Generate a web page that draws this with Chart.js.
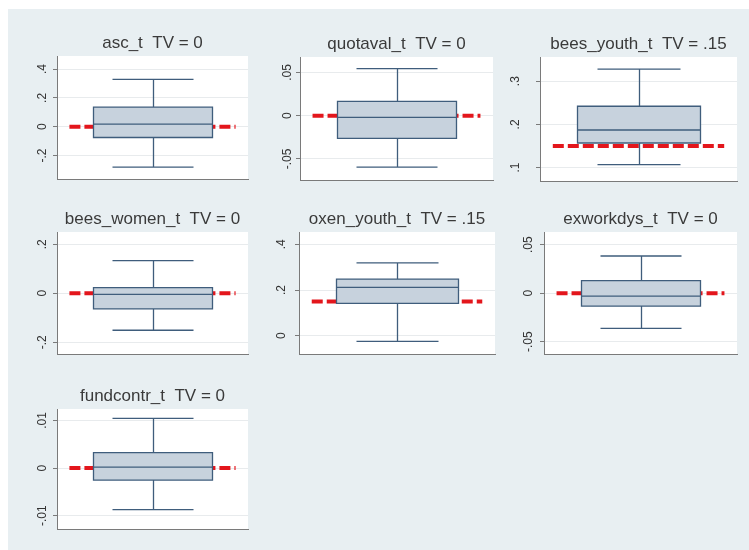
<!DOCTYPE html>
<html>
<head>
<meta charset="utf-8">
<script src="https://cdn.jsdelivr.net/npm/chart.js@4/dist/chart.umd.min.js"></script>
<style>
  html, body { margin: 0; padding: 0; background: #ffffff; }
  #wrap { position: relative; width: 749px; height: 550px; overflow: hidden; background: #ffffff; }
  #region { position: absolute; left: 8px; top: 9px; right: 0; bottom: 0; background: #e8eff2; }
  #wrap canvas { position: absolute; }
</style>
</head>
<body>
<div id="wrap"><div id="region"></div></div>
<script>
// Simulated t-statistics: one box per variable, red dashed line at the true value (TV)
const variables = ['asc_t', 'quotaval_t', 'bees_youth_t', 'bees_women_t', 'oxen_youth_t', 'exworkdys_t', 'fundcontr_t'];
const trueValues = [0, 0, 0.15, 0, 0.15, 0, 0];
const trueValueLabels = ['0', '0', '.15', '0', '.15', '0', '0'];

const lowerWhisker  = [-0.280, -0.0594, 0.107, -0.151, -0.025, -0.0362, -0.00872];
const lowerQuartile = [-0.075, -0.0263, 0.157, -0.064,  0.142, -0.0133, -0.00253];
const medians       = [ 0.018, -0.0020, 0.187, -0.005,  0.212, -0.0031,  0.00020];
const upperQuartile = [ 0.136,  0.0166, 0.242,  0.023,  0.248,  0.0130,  0.00323];
const upperWhisker  = [ 0.329,  0.0544, 0.328,  0.133,  0.319,  0.0383,  0.01044];

const axisMin = [-0.363, -0.0744, 0.069, -0.248, -0.080, -0.0626, -0.0128];
const axisMax = [ 0.491,  0.0679, 0.356,  0.250,  0.454,  0.0630,  0.0124];

const tickValues = [
  [-0.2, 0, 0.2, 0.4], [-0.05, 0, 0.05], [0.1, 0.2, 0.3],
  [-0.2, 0, 0.2], [0, 0.2, 0.4], [-0.05, 0, 0.05], [-0.01, 0, 0.01]
];
const tickLabels = [
  ['-.2', '0', '.2', '.4'], ['-.05', '0', '.05'], ['.1', '.2', '.3'],
  ['-.2', '0', '.2'], ['0', '.2', '.4'], ['-.05', '0', '.05'], ['-.01', '0', '.01']
];

// Plot-area rectangles on the page: [left, top, right, bottom]
const plotRects = [
  [57, 56, 248, 179], [300, 57, 493, 180], [540, 57, 737, 181],
  [57, 232, 248, 354], [299, 232, 495, 354], [544, 232, 737, 354],
  [57, 409, 248, 529]
];
const labelPadding = [3, -2, 15, 3, 8, 1, 0];

const AXIS_W = 45, TITLE_H = 40, EDGE = 4;
const TITLE_SIZE = 17, TITLE_LH = 1.2;
const BOX_L = 0.19, BOX_R = 0.81, CAP_L = 0.29, CAP_R = 0.71, MID = 0.5;
const TV_FROM = 0.065, TV_TO = 0.935;

const AXIS_COLOR = '#7a7a7a';
const BOX_FILL = '#c7d2dd';
const BOX_LINE = '#3f5d7c';

const boxWhisker = {
  id: 'boxWhisker',
  beforeDraw(chart) {
    const a = chart.chartArea, ctx = chart.ctx;
    ctx.save();
    ctx.fillStyle = '#ffffff';
    ctx.fillRect(a.left, a.top, a.right - a.left, a.bottom - a.top);
    ctx.restore();
  },
  afterDatasetsDraw(chart, args, opts) {
    const xs = chart.scales.x, ys = chart.scales.y, ctx = chart.ctx;
    const px = v => xs.getPixelForValue(v);
    const py = v => ys.getPixelForValue(v);
    const xl = Math.round(px(BOX_L)) + 0.5, xr = Math.round(px(BOX_R)) + 0.5;
    const xm = Math.round(px(MID)) + 0.5;
    const cl = Math.round(px(CAP_L)) + 0.5, cr = Math.round(px(CAP_R)) + 0.5;
    const yq1 = py(opts.q1), yq3 = py(opts.q3), ymed = py(opts.med);
    const ylo = py(opts.lo), yhi = py(opts.hi);
    ctx.save();
    ctx.strokeStyle = BOX_LINE;
    ctx.lineWidth = 1.3;
    ctx.fillStyle = BOX_FILL;
    ctx.fillRect(xl, yq3, xr - xl, yq1 - yq3);
    ctx.beginPath();
    // whiskers and caps
    ctx.moveTo(xm, yq3); ctx.lineTo(xm, yhi);
    ctx.moveTo(cl, yhi); ctx.lineTo(cr, yhi);
    ctx.moveTo(xm, yq1); ctx.lineTo(xm, ylo);
    ctx.moveTo(cl, ylo); ctx.lineTo(cr, ylo);
    // box outline and median
    ctx.rect(xl, yq3, xr - xl, yq1 - yq3);
    ctx.moveTo(xl, ymed); ctx.lineTo(xr, ymed);
    ctx.stroke();
    ctx.restore();
  }
};

const wrap = document.getElementById('wrap');

variables.forEach((name, i) => {
  const [L, T, R, B] = plotRects[i];
  const w = R - L + AXIS_W + EDGE;
  const h = B - T + TITLE_H + EDGE;
  const canvas = document.createElement('canvas');
  canvas.width = w; canvas.height = h;
  canvas.style.left = (L - AXIS_W) + 'px';
  canvas.style.top = (T - TITLE_H) + 'px';
  canvas.style.width = w + 'px';
  canvas.style.height = h + 'px';
  wrap.appendChild(canvas);

  const lineBox = TITLE_SIZE * TITLE_LH;
  new Chart(canvas, {
    type: 'line',
    data: {
      datasets: [{
        label: 'TV',
        data: [{ x: TV_FROM, y: trueValues[i] }, { x: TV_TO, y: trueValues[i] }],
        borderColor: '#e3161c',
        borderWidth: 4,
        borderDash: [11, 4],
        pointRadius: 0,
        fill: false
      }]
    },
    options: {
      responsive: false,
      animation: false,
      events: [],
      layout: { padding: { left: 0, top: 0, right: EDGE, bottom: EDGE } },
      plugins: {
        legend: { display: false },
        tooltip: { enabled: false },
        title: {
          display: true,
          fullSize: false,
          text: name + '  TV = ' + trueValueLabels[i],
          color: '#3a3a3a',
          font: { family: 'Liberation Sans', size: TITLE_SIZE, weight: 'normal', lineHeight: TITLE_LH },
          padding: { top: TITLE_H - lineBox - 2.5, bottom: 2.5 }
        },
        boxWhisker: {
          lo: lowerWhisker[i], q1: lowerQuartile[i], med: medians[i],
          q3: upperQuartile[i], hi: upperWhisker[i]
        }
      },
      scales: {
        x: {
          type: 'linear', min: 0, max: 1,
          ticks: { display: false },
          grid: { display: false, drawTicks: false },
          border: { display: true, color: AXIS_COLOR, width: 1 },
          afterFit: s => { s.height = 0; s.paddingLeft = 0; s.paddingRight = 0; }
        },
        y: {
          type: 'linear', min: axisMin[i], max: axisMax[i],
          afterBuildTicks: s => { s.ticks = tickValues[i].map(v => ({ value: v })); },
          afterFit: s => { s.width = AXIS_W; s.paddingTop = 0; s.paddingBottom = 0; },
          ticks: {
            callback: v => tickLabels[i][tickValues[i].indexOf(v)],
            minRotation: 90, maxRotation: 90,
            crossAlign: 'center',
            padding: labelPadding[i],
            color: '#333333',
            font: { family: 'Liberation Sans', size: 12 }
          },
          grid: { color: '#e8ebed', tickColor: AXIS_COLOR, tickLength: 4, lineWidth: 1 },
          border: { display: true, color: AXIS_COLOR, width: 1 }
        }
      }
    },
    plugins: [boxWhisker]
  });
});
</script>
</body>
</html>
